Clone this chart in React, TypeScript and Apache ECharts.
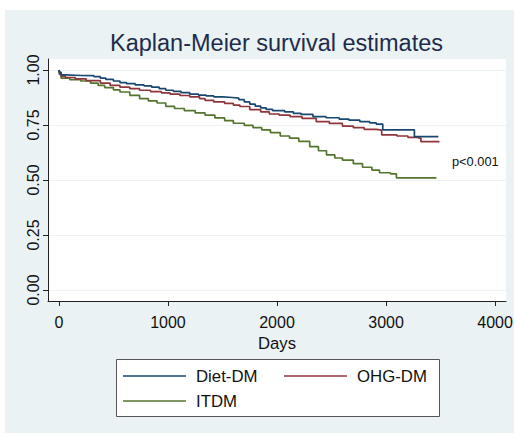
import React, { useEffect, useRef } from "react";
import * as echarts from "echarts";

// Kaplan-Meier step data (days, survival probability)
const dietDays = [0, 5, 20, 60, 200, 320, 380, 430, 500, 560, 620, 700, 780, 850, 920, 980, 1050, 1120, 1200, 1280, 1350, 1420, 1500, 1590, 1650, 1700, 1750, 1800, 1850, 1900, 1960, 2070, 2150, 2220, 2330, 2450, 2570, 2660, 2760, 2850, 2910, 2970, 3260, 3480];
const dietSurv = [1.0, 0.99, 0.978, 0.975, 0.974, 0.97, 0.963, 0.957, 0.95, 0.943, 0.938, 0.932, 0.928, 0.922, 0.915, 0.908, 0.903, 0.897, 0.89, 0.886, 0.882, 0.878, 0.875, 0.872, 0.865, 0.855, 0.845, 0.836, 0.828, 0.821, 0.815, 0.81, 0.803, 0.798, 0.788, 0.783, 0.777, 0.772, 0.765, 0.76, 0.754, 0.728, 0.697, 0.697];

const ohgDays = [0, 5, 20, 60, 150, 250, 380, 470, 560, 650, 740, 840, 940, 1020, 1110, 1200, 1290, 1340, 1420, 1520, 1600, 1660, 1750, 1850, 1930, 2020, 2120, 2230, 2360, 2480, 2600, 2700, 2800, 2910, 2960, 3100, 3200, 3300, 3320, 3490];
const ohgSurv = [1.0, 0.985, 0.972, 0.966, 0.96, 0.952, 0.94, 0.93, 0.922, 0.915, 0.908, 0.902, 0.896, 0.89, 0.884, 0.878, 0.87, 0.862, 0.855, 0.848, 0.84, 0.834, 0.82, 0.81, 0.8, 0.795, 0.788, 0.78, 0.765, 0.757, 0.745, 0.738, 0.73, 0.727, 0.705, 0.7, 0.694, 0.69, 0.674, 0.674];

const itdmDays = [0, 5, 20, 100, 200, 290, 360, 420, 500, 560, 650, 740, 820, 900, 980, 1060, 1150, 1250, 1340, 1430, 1520, 1600, 1700, 1780, 1860, 1940, 2030, 2115, 2200, 2300, 2380, 2454, 2530, 2601, 2700, 2784, 2870, 2940, 3040, 3095, 3462];
const itdmSurv = [1.0, 0.98, 0.963, 0.956, 0.95, 0.94, 0.93, 0.92, 0.91, 0.9, 0.885, 0.87, 0.86, 0.85, 0.835, 0.825, 0.815, 0.805, 0.795, 0.782, 0.77, 0.758, 0.748, 0.738, 0.728, 0.715, 0.7, 0.69, 0.676, 0.652, 0.633, 0.614, 0.6, 0.59, 0.574, 0.558, 0.545, 0.533, 0.528, 0.51, 0.51];

const groupNames = ["Diet-DM", "OHG-DM", "ITDM"];
const groupColors = ["#1A476F", "#90353B", "#55752F"];
const xTicks = [0, 1000, 2000, 3000, 4000];
const yTicks = [0, 0.25, 0.5, 0.75, 1.0];
const titleText = "Kaplan-Meier survival estimates";
const pText = "p<0.001";

const FONT = "'Liberation Sans', Arial, sans-serif";

export default function App() {
  const ref = useRef<HTMLDivElement>(null);
  useEffect(() => {
    if (!ref.current) return;
    const chart = echarts.init(ref.current, undefined, { renderer: "svg" });
    const pairs = [
      [dietDays, dietSurv],
      [ohgDays, ohgSurv],
      [itdmDays, itdmSurv],
    ];
    const series = pairs.map(([d, s], i) => ({
      name: groupNames[i],
      type: "line",
      step: "end",
      symbol: "none",
      showSymbol: false,
      data: d.map((t, j) => [t, s[j]]),
      lineStyle: { color: groupColors[i], width: 1.7 },
      itemStyle: { color: groupColors[i] },
      z: 3 - i,
    }));
    chart.setOption({
      animation: false,
      backgroundColor: "#EAF2F3",
      textStyle: { fontFamily: FONT },
      title: {
        text: titleText,
        left: 105,
        top: 21,
        padding: 0,
        textStyle: { fontSize: 23.5, fontWeight: "normal", color: "#1e2c4c", fontFamily: FONT },
      },
      grid: {
        left: 43,
        top: 49,
        width: 458,
        height: 242,
        show: true,
        backgroundColor: "#ffffff",
        borderWidth: 0,
        outerBoundsMode: "none",
      },
      xAxis: {
        type: "value",
        min: -100,
        max: 4100,
        name: "Days",
        nameLocation: "middle",
        nameGap: 29,
        nameTextStyle: { fontSize: 16.7, color: "#111", fontFamily: FONT },
        axisLine: { onZero: false, lineStyle: { color: "#222", width: 1 } },
        axisTick: { show: true, length: 5, customValues: xTicks, lineStyle: { color: "#222" } },
        axisLabel: {
          customValues: xTicks,
          margin: 13,
          fontSize: 16,
          color: "#111",
          fontFamily: FONT,
          formatter: (v: number) => String(Math.round(v)),
        },
        splitLine: { show: false },
      },
      yAxis: {
        type: "value",
        min: -0.05,
        max: 1.05,
        axisLine: { show: true, onZero: false, lineStyle: { color: "#222", width: 1 } },
        axisTick: { show: true, length: 5, customValues: yTicks, lineStyle: { color: "#222" } },
        axisLabel: {
          customValues: yTicks,
          rotate: 90,
          margin: 7,
          fontSize: 16,
          color: "#111",
          fontFamily: FONT,
          formatter: (v: number) => v.toFixed(2),
        },
        splitLine: { show: true, lineStyle: { color: "#EAF2F3", width: 1 } },
      },
      legend: {
        data: groupNames,
        left: 118,
        top: 356.5,
        width: 330,
        padding: 0,
        itemGap: 6,
        itemWidth: 63,
        itemHeight: 2,
        icon: "rect",
        selectedMode: false,
        itemStyle: { opacity: 0.75 },
        textStyle: { fontSize: 16.8, color: "#111", fontFamily: FONT, width: 82, lineHeight: 19, padding: [0, 0, 0, 5] },
      },
      graphic: [
        {
          type: "rect",
          z: 0,
          shape: { x: 111.5, y: 349.5, width: 323, height: 57 },
          style: { fill: "#ffffff", stroke: "#555", lineWidth: 1 },
        },
        {
          type: "text",
          x: 447,
          y: 151,
          style: { text: pText, fill: "#111", fontSize: 12.8, fontFamily: FONT, verticalAlign: "middle" },
        },
      ],
      series,
    });
    return () => chart.dispose();
  }, []);
  return (
    <div
      ref={ref}
      style={{ position: "fixed", left: 5, top: 10, width: 509, height: 423 }}
    />
  );
}
